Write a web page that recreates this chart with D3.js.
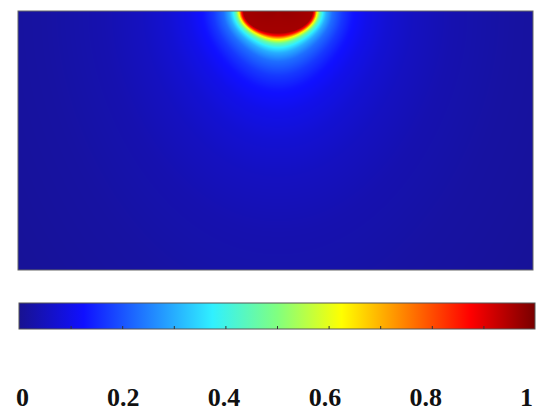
<!DOCTYPE html>
<html>
<head>
<meta charset="utf-8">
<script src="https://cdn.jsdelivr.net/npm/d3@7"></script>
<style>
  body { margin: 0; background: #fff; }
  svg { display: block; }
</style>
</head>
<body>
<svg width="550" height="420"></svg>
<script>
// colour bar labels
const labelTicks = [0, 0.2, 0.4, 0.6, 0.8, 1];
const minorTicks = [0.1, 0.2, 0.3, 0.4, 0.5, 0.6, 0.7, 0.8, 0.9];
// jet-like colour map
const jetStops = [0, 0.125, 0.375, 0.5, 0.625, 0.875, 1];
const jetColors = ["#181290", "#1010ff", "#30f0ff", "#80ff80", "#ffff00", "#ff0000", "#780000"];
// value vs. distance outside the hot core
const profileDist = [-100, 0, 2, 4.5, 7.5, 10.5, 14, 20, 30, 40, 55, 75, 100, 140, 200, 320];
const profileValue = [1, 0.96, 0.86, 0.63, 0.46, 0.37, 0.3, 0.23, 0.17, 0.13, 0.1, 0.075, 0.055, 0.035, 0.02, 0.005];

const svg = d3.select('svg');

// plot area
const plot = { x: 18, y: 11, w: 515, h: 259 };
const bar = { x: 19, y: 303, w: 516, h: 26 };

const color = d3.scaleLinear().domain(jetStops).range(jetColors).clamp(true);
const profile = d3.scaleLinear().domain(profileDist).range(profileValue).clamp(true);

// field coordinates (same units as pixels of the plot)
const xField = d3.scaleLinear().domain([0, plot.w]).range([plot.x, plot.x + plot.w]);
const yField = d3.scaleLinear().domain([0, plot.h]).range([plot.y, plot.y + plot.h]);
const srcX = 260;          // centre of the heat source on the top edge
const coreA = 34.5, coreB = 22; // half axes of the hot core
const depthScale = 0.7;

const canvas = document.createElement('canvas');
canvas.width = plot.w;
canvas.height = plot.h;
const ctx = canvas.getContext('2d');
const img = ctx.createImageData(plot.w, plot.h);
for (let j = 0; j < plot.h; j++) {
  for (let i = 0; i < plot.w; i++) {
    const dx = i + 0.5 - srcX;
    const dy = j + 0.5;
    const r = Math.sqrt(dx * dx + dy * dy);
    const cs = r ? dx / r : 1, sn = r ? dy / r : 0;
    const R = 1 / Math.sqrt((cs / coreA) ** 2 + (sn / coreB) ** 2);
    const f = Math.sqrt(cs * cs + (depthScale * sn) ** 2);
    const v = profile((r - R) * f);
    const c = d3.rgb(color(v));
    const k = (j * plot.w + i) * 4;
    img.data[k] = c.r; img.data[k + 1] = c.g; img.data[k + 2] = c.b; img.data[k + 3] = 255;
  }
}
ctx.putImageData(img, 0, 0);

svg.append('image')
  .attr('x', xField(0))
  .attr('y', yField(0))
  .attr('width', plot.w)
  .attr('height', plot.h)
  .attr('href', canvas.toDataURL());

svg.append('rect')
  .attr('x', plot.x)
  .attr('y', plot.y)
  .attr('width', plot.w)
  .attr('height', plot.h)
  .attr('fill', 'none')
  .attr('stroke', '#666')
  .attr('stroke-width', 1);

// colour bar
const grad = svg.append('defs').append('linearGradient')
  .attr('id', 'jet')
  .attr('x1', '0%').attr('x2', '100%').attr('y1', '0%').attr('y2', '0%');
grad.selectAll('stop')
  .data(jetStops)
  .enter()
  .append('stop')
  .attr('offset', d => d * 100 + '%')
  .attr('stop-color', (d, i) => jetColors[i]);

svg.append('rect')
  .attr('x', bar.x)
  .attr('y', bar.y)
  .attr('width', bar.w)
  .attr('height', bar.h)
  .attr('fill', 'url(#jet)')
  .attr('stroke', '#555')
  .attr('stroke-width', 1);

const barScale = d3.scaleLinear().domain([0, 1]).range([bar.x, bar.x + bar.w]);
const gTicks = svg.append('g')
  .attr('transform', `translate(0, ${bar.y + bar.h})`)
  .call(d3.axisBottom(barScale).tickValues(minorTicks).tickSize(-3).tickFormat(''));
gTicks.select('.domain').remove();
gTicks.selectAll('line').attr('stroke', '#333').attr('stroke-width', 1);

// labels
const labelScale = d3.scaleLinear().domain([0, 1]).range([22, 526]);
const gLabels = svg.append('g')
  .attr('transform', 'translate(0, 388)')
  .call(d3.axisBottom(labelScale).tickValues(labelTicks).tickSize(0).tickPadding(0)
    .tickFormat(d => d3.format('~g')(d)));
gLabels.select('.domain').remove();
gLabels.selectAll('text')
  .attr('font-family', '"Liberation Serif", serif')
  .attr('font-weight', 'bold')
  .attr('font-size', 26)
  .attr('fill', '#111')
  .attr('dy', 0)
  .attr('y', 18);
</script>
</body>
</html>
